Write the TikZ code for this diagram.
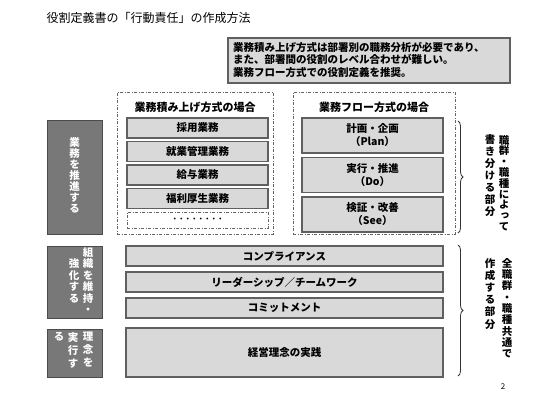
\documentclass[tikz,border=0pt]{standalone}
\usepackage{fontspec}
\setmainfont{Noto Sans CJK JP}
\newfontfamily\vjp[RawFeature=+vert]{Noto Sans CJK JP}
\definecolor{boxgray}{RGB}{217, 217, 217}
\definecolor{edgegray}{RGB}{96, 96, 96}
\definecolor{tabgray}{RGB}{120, 120, 120}
\definecolor{tabedge}{RGB}{75, 75, 75}
\definecolor{framegray}{RGB}{100, 100, 100}
\usetikzlibrary{positioning, calc, decorations.pathreplacing}

\begin{document}
\begin{tikzpicture}[x=1pt, y=-1pt,
  itembox/.style={draw=edgegray, line width=1.1pt, fill=boxgray, inner sep=0pt,
    font=\fontsize{10.5}{13}\selectfont\bfseries, align=center},
  tabbox/.style={draw=tabedge, line width=0.9pt, fill=tabgray, inner sep=0pt},
  frame/.style={draw=framegray, line width=0.8pt, dash pattern=on 3pt off 1.5pt on 1pt off 1.5pt},
  tabtext/.style={text=white, inner sep=0pt, anchor=north, align=center},
  sidetext/.style={inner sep=0pt, anchor=north, align=center},
  headtext/.style={font=\fontsize{11}{13}\selectfont\bfseries},
  sidebrace/.style={draw=black!80, line width=0.8pt, decorate, decoration={brace, amplitude=5pt}}]
  \path[fill=white, use as bounding box] (0,0) rectangle (540,405);

  % title and note
  \node[anchor=west, font=\fontsize{12}{14}\selectfont] (title) at (43,18) {役割定義書の「行動責任」の作成方法};
  \node[draw=edgegray, line width=1.2pt, fill=boxgray, minimum width=282pt, minimum height=45pt, inner sep=0pt] (note) at (369,60.5) {};
  \node[anchor=north west, align=left, inner sep=0pt, font=\fontsize{10.5}{12.3}\selectfont\bfseries] (notetxt) at (233,42) {業務積み上げ方式は部署別の職務分析が必要であり、\\また、部署間の役割のレベル合わせが難しい。\\業務フロー方式での役割定義を推奨。};

  % left side tabs
  \node[tabbox, minimum width=55pt, minimum height=114pt] (tab1) at (74.5,177) {};
  \node[tabbox, minimum width=55pt, minimum height=72pt] (tab2) at (74.5,282) {};
  \node[tabbox, minimum width=55pt, minimum height=48pt] (tab3) at (74.5,353) {};
  \node[tabtext, font=\fontsize{10.5}{11}\vjp\bfseries] (tab1a) at (74.5,137) {業\\務\\を\\推\\進\\す\\る};
  \node[tabtext, font=\fontsize{10.5}{11.5}\vjp\bfseries] (tab2a) at (88,247) {組\\織\\を\\維\\持\\・};
  \node[tabtext, font=\fontsize{10.5}{11.5}\vjp\bfseries] (tab2b) at (74,258.5) {強\\化\\す\\る};
  \node[tabtext, font=\fontsize{10.5}{13}\vjp\bfseries] (tab3a) at (88,332) {理\\念\\を};
  \node[tabtext, font=\fontsize{10.5}{13}\vjp\bfseries] (tab3b) at (73,332) {実\\行\\す};
  \node[tabtext, font=\fontsize{10.5}{13}\vjp\bfseries] (tab3c) at (59,332) {る};

  % stacking method
  \node[frame, minimum width=156pt, minimum height=142pt] (stackframe) at (195,163) {};
  \node[headtext] (stackhead) at (195,107) {業務積み上げ方式の場合};
  \node[itembox, minimum width=141pt, minimum height=20pt] (hire) at (197.5,128) {採用業務};
  \node[itembox, minimum width=141pt, minimum height=20pt] (attend) at (197.5,151.5) {就業管理業務};
  \node[itembox, minimum width=141pt, minimum height=20pt] (pay) at (197.5,175) {給与業務};
  \node[itembox, minimum width=141pt, minimum height=20pt] (welfare) at (197.5,198.5) {福利厚生業務};
  \node[frame, fill=white, minimum width=141pt, minimum height=16pt, inner sep=0pt, font=\fontsize{6.5}{7}\selectfont\bfseries] (more) at (197.5,220) {・・・・・・・・};

  % flow method
  \node[frame, minimum width=162pt, minimum height=142pt] (flowframe) at (374,163) {};
  \node[headtext] (flowhead) at (374,107) {業務フロー方式の場合};
  \node[itembox, minimum width=141pt, minimum height=35pt] (plan) at (372.5,135.5) {計画・企画\\（Plan）};
  \node[itembox, minimum width=141pt, minimum height=35pt] (do) at (372.5,175) {実行・推進\\（Do）};
  \node[itembox, minimum width=141pt, minimum height=35pt] (see) at (372.5,214.5) {検証・改善\\（See）};

  % common part
  \node[itembox, minimum width=317pt, minimum height=20pt] (comply) at (284.5,256) {コンプライアンス};
  \node[itembox, minimum width=317pt, minimum height=20pt] (lead) at (284.5,282) {リーダーシップ／チームワーク};
  \node[itembox, minimum width=317pt, minimum height=20pt] (commit) at (284.5,308) {コミットメント};
  \node[itembox, minimum width=317pt, minimum height=49pt] (philo) at (284.5,352.5) {経営理念の実践};

  % braces
  \coordinate (b1top) at (458,121);
  \coordinate (b1bot) at (458,233);
  \coordinate (b2top) at (458,245);
  \coordinate (b2bot) at (458,376);
  \draw[sidebrace] (b1top) -- (b1bot);
  \draw[sidebrace] (b2top) -- (b2bot);
  \node[sidetext, font=\fontsize{10.5}{10.8}\vjp\bfseries] (side1a) at (504,135) {職\\群\\・\\職\\種\\に\\よ\\っ\\て};
  \node[sidetext, font=\fontsize{10.5}{12}\vjp\bfseries] (side1b) at (490,134) {書\\き\\分\\け\\る\\部\\分};
  \node[sidetext, font=\fontsize{10.5}{11.3}\vjp\bfseries] (side2a) at (507,258) {全\\職\\群\\・\\職\\種\\共\\通\\で};
  \node[sidetext, font=\fontsize{10.5}{12.2}\vjp\bfseries] (side2b) at (490,258) {作\\成\\す\\る\\部\\分};

  \node[font=\fontsize{8}{9}\selectfont] (pagenum) at (503,387) {2};
\end{tikzpicture}
\end{document}
